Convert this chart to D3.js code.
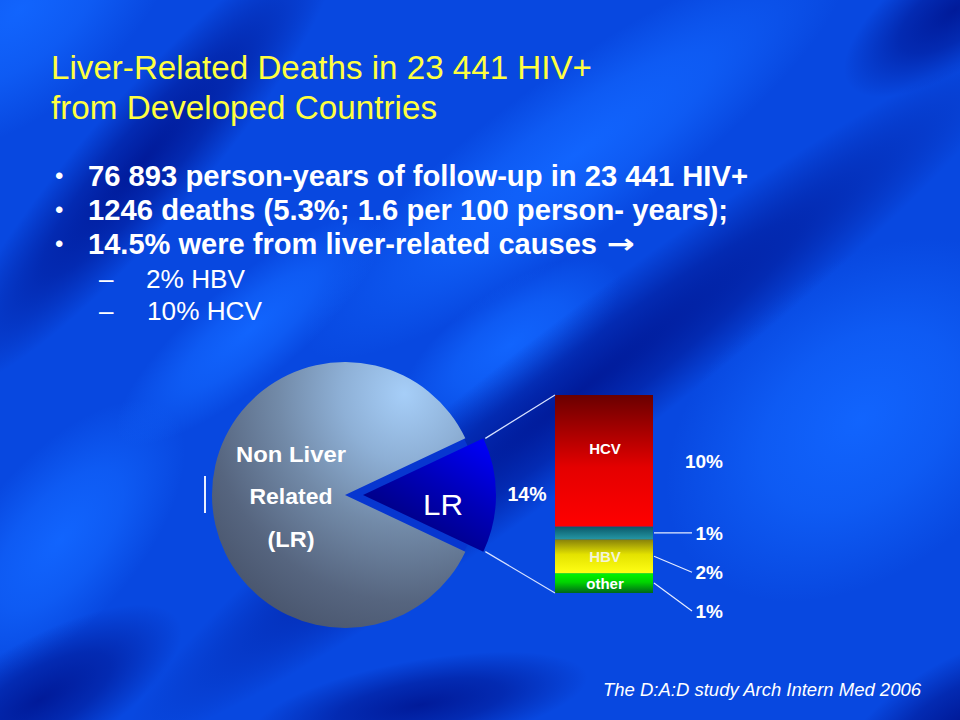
<!DOCTYPE html>
<html>
<head>
<meta charset="utf-8">
<script src="https://cdn.jsdelivr.net/npm/d3@7/dist/d3.min.js"></script>
<style>
  html, body { margin: 0; padding: 0; background: #0848e0; }
  svg { display: block; }
  text { font-family: "Liberation Sans", Arial, sans-serif; }
</style>
</head>
<body>
<svg id="chart" width="960" height="720"></svg>
<script>
// ---------------- DATA ----------------
const titleLines = ["Liver-Related Deaths in 23 441 HIV+", "from Developed Countries"];
const bullets = [
  "76 893 person-years of follow-up in 23 441 HIV+",
  "1246 deaths (5.3%; 1.6 per 100 person- years);",
  "14.5% were from liver-related causes"
];
const subBullets = ["2% HBV", "10% HCV"];
const footnote = "The D:A:D study Arch Intern Med 2006";

const pieCategories = ["Non Liver Related (LR)", "LR"];
const pieValues = [86, 14];
const pieCategoryLines = [["Non Liver", "Related", "(LR)"], ["LR"]];
const pieShareLabel = "14%";

// stacked bar, bottom to top
const barCategories = ["other", "HBV", "", "HCV"];
const barValues = [1.4, 2.4, 0.9, 9.3];
const barLabels = ["1%", "2%", "1%", "10%"];

// ---------------- LAYOUT ----------------
const svg = d3.select("#chart");
const W = 960, H = 720;
const defs = svg.append("defs");

// ---- background: base colour + soft elliptical streaks
svg.append("rect").attr("width", W).attr("height", H).attr("fill", "#0848e0");
function blobGrad(id, color, op) {
  const g = defs.append("radialGradient").attr("id", id);
  g.append("stop").attr("offset", 0).attr("stop-color", color).attr("stop-opacity", op);
  g.append("stop").attr("offset", 0.5).attr("stop-color", color).attr("stop-opacity", op * 0.65);
  g.append("stop").attr("offset", 1).attr("stop-color", color).attr("stop-opacity", 0);
}
blobGrad("bBright", "#1266ff", 0.95);
blobGrad("bDark", "#001896", 0.95);
const bgBlobs = [
  // bright
  { x: 20, y: 10, rx: 190, ry: 100, a: -40, t: "bBright" },
  { x: 575, y: 155, rx: 330, ry: 80, a: -36, t: "bBright" },
  { x: 860, y: 420, rx: 220, ry: 150, a: -40, t: "bBright" },
  { x: 60, y: 540, rx: 170, ry: 80, a: -50, t: "bBright" },
  { x: 510, y: 345, rx: 130, ry: 55, a: -35, t: "bBright" },
  { x: 250, y: 330, rx: 170, ry: 50, a: -40, t: "bBright" },
  // dark
  { x: 140, y: 165, rx: 290, ry: 60, a: -49, t: "bDark" },
  { x: 575, y: 395, rx: 560, ry: 70, a: -37.5, t: "bDark" },
  { x: 955, y: 10, rx: 130, ry: 55, a: -35, t: "bDark" },
  { x: 960, y: 720, rx: 140, ry: 60, a: -30, t: "bDark" },
  { x: 420, y: 705, rx: 170, ry: 45, a: -10, t: "bDark" },
  { x: 40, y: 700, rx: 160, ry: 60, a: -30, t: "bDark" }
];
svg.append("g").selectAll("ellipse").data(bgBlobs).join("ellipse")
  .attr("rx", d => d.rx).attr("ry", d => d.ry)
  .attr("transform", d => `translate(${d.x},${d.y}) rotate(${d.a})`)
  .attr("fill", d => `url(#${d.t})`);

// helper for fitted text
function fitText(g, str, x, y, size, width, opts = {}) {
  const t = g.append("text")
    .attr("x", x).attr("y", y)
    .attr("font-size", size)
    .attr("fill", opts.fill || "#fff")
    .attr("font-weight", opts.weight || "normal")
    .attr("font-style", opts.style || "normal")
    .text(str);
  if (opts.family) t.style("font-family", opts.family);
  if (opts.anchor) t.attr("text-anchor", opts.anchor);
  if (width) t.attr("textLength", width).attr("lengthAdjust", "spacingAndGlyphs");
  return t;
}

// title
const textG = svg.append("g");
const titleLayout = [{ y: 79, w: 541 }, { y: 118.5, w: 386 }];
titleLines.forEach((s, i) => fitText(textG, s, 51, titleLayout[i].y, 33, titleLayout[i].w, { fill: "#ffff40" }));

// bullets
const bulletLayout = [{ y: 186, w: 660 }, { y: 220, w: 640 }, { y: 254, w: 509 }];
bullets.forEach((s, i) => {
  textG.append("text").attr("x", 55).attr("y", bulletLayout[i].y - 2).attr("font-size", 24).attr("fill", "#fff").text("•");
  fitText(textG, s, 88, bulletLayout[i].y, 29, bulletLayout[i].w, { weight: "bold" });
});
fitText(textG, "→", 607, 253, 27, 28, { weight: "bold", family: "DejaVu Sans" });

const subLayout = [{ y: 288, w: 99 }, { y: 320, w: 115 }];
subBullets.forEach((s, i) => {
  textG.append("text").attr("x", 99).attr("y", subLayout[i].y).attr("font-size", 26).attr("fill", "#fff").text("–");
  fitText(textG, s, 146 + i, subLayout[i].y, 26.5, subLayout[i].w);
});

fitText(textG, footnote, 603, 696, 18.5, 318, { style: "italic" });

// ---------------- PIE ----------------
const cx = 345, cy = 495, R = 133, explode = 18;
const total = d3.sum(pieValues);
const lrIndex = 1;
const before = d3.sum(pieValues.slice(0, lrIndex));
const startA = Math.PI / 2 - ((before + pieValues[lrIndex] / 2) / total) * 2 * Math.PI;
const pie = d3.pie().sort(null).value(d => d).startAngle(startA).endAngle(startA + 2 * Math.PI);
const arcs = pie(pieValues);
const arc = d3.arc().innerRadius(0).outerRadius(R);

const gGrey = defs.append("radialGradient").attr("id", "gGrey")
  .attr("cx", 0.76).attr("cy", 0.12).attr("r", 1.0).attr("fx", 0.76).attr("fy", 0.12);
[[0, "#a6cef8"], [0.25, "#8eb0d6"], [0.5, "#728aa8"], [0.78, "#56657f"], [1, "#47536b"]]
  .forEach(([o, c]) => gGrey.append("stop").attr("offset", o).attr("stop-color", c));

const lrA = arcs[lrIndex];
const mid = (lrA.startAngle + lrA.endAngle) / 2;
const ex = explode * Math.sin(mid), ey = -explode * Math.cos(mid);

const gLR = defs.append("linearGradient").attr("id", "gLR")
  .attr("x1", 0.85).attr("y1", 0).attr("x2", 0.15).attr("y2", 1);
[[0, "#0000f6"], [0.4, "#0000b8"], [0.75, "#000088"], [1, "#000066"]]
  .forEach(([o, c]) => gLR.append("stop").attr("offset", o).attr("stop-color", c));

defs.append("clipPath").attr("id", "haloClip")
  .append("circle").attr("cx", cx).attr("cy", cy).attr("r", R - 1);

const pieG = svg.append("g").attr("transform", `translate(${cx},${cy})`);
const corner0 = a => [ex + R * Math.sin(a), ey - R * Math.cos(a)];
// lighter-blue band along the two straight edges of the exploded slice
svg.append("g").attr("clip-path", "url(#haloClip)")
  .append("path")
  .attr("transform", `translate(${cx},${cy})`)
  .attr("d", d3.line()([corner0(lrA.startAngle), [ex, ey], corner0(lrA.endAngle)]))
  .attr("fill", "none").attr("stroke", "#0736d0").attr("stroke-width", 18)
  .attr("stroke-linejoin", "miter").attr("stroke-miterlimit", 10);
pieG.raise();
pieG.selectAll("path.slice").data(arcs).join("path")
  .attr("class", "slice")
  .attr("d", arc)
  .attr("transform", (d, i) => i === lrIndex ? `translate(${ex},${ey})` : null)
  .attr("fill", (d, i) => i === lrIndex ? "url(#gLR)" : "url(#gGrey)");

// pie labels
const nonLines = pieCategoryLines[0];
const nonY = [462, 504, 547];
nonLines.forEach((s, i) => {
  svg.append("text").attr("x", 291).attr("y", nonY[i]).attr("text-anchor", "middle")
    .attr("font-size", 22.5).attr("font-weight", "bold").attr("fill", "#fff")
    .attr("textLength", [110, 83, 47][i]).attr("lengthAdjust", "spacingAndGlyphs").text(s);
});
svg.append("text").attr("x", 443).attr("y", 515).attr("text-anchor", "middle")
  .attr("font-size", 29).attr("fill", "#fff").attr("textLength", 40).attr("lengthAdjust", "spacingAndGlyphs")
  .text(pieCategoryLines[1][0]);
svg.append("text").attr("x", 527).attr("y", 501).attr("text-anchor", "middle")
  .attr("font-size", 19.5).attr("font-weight", "bold").attr("fill", "#fff").text(pieShareLabel);

// small vertical mark at the left of the pie
svg.append("line").attr("x1", 205).attr("x2", 205).attr("y1", 476).attr("y2", 513)
  .attr("stroke", "#e8eeff").attr("stroke-width", 2);

// ---------------- STACKED BAR ----------------
const barX0 = 555, barX1 = 653;
const y = d3.scaleLinear().domain([0, d3.sum(barValues)]).range([593, 395]);
let acc = 0;
const segs = barValues.map((v, i) => {
  const s = { cat: barCategories[i], v, lab: barLabels[i], y0: acc, y1: acc + v, i };
  acc += v;
  return s;
});

const segGrads = [
  [[0, "#00f400"], [0.45, "#00d400"], [1, "#00661a"]],
  [[0, "#86800a"], [0.45, "#e4e200"], [1, "#ffff14"]],
  [[0, "#0a5868"], [1, "#2596a4"]],
  [[0, "#6a0000"], [0.55, "#e40000"], [1, "#ff0000"]]
];
segGrads.forEach((stops, i) => {
  const g = defs.append("linearGradient").attr("id", "seg" + i)
    .attr("x1", 0).attr("y1", 0).attr("x2", 0).attr("y2", 1);
  stops.forEach(([o, c]) => g.append("stop").attr("offset", o).attr("stop-color", c));
});

const barG = svg.append("g");
barG.selectAll("rect").data(segs).join("rect")
  .attr("x", barX0).attr("width", barX1 - barX0)
  .attr("y", d => y(d.y1)).attr("height", d => y(d.y0) - y(d.y1))
  .attr("fill", d => `url(#seg${d.i})`);

// inside labels
barG.selectAll("text.in").data(segs.filter(d => d.cat)).join("text")
  .attr("class", "in")
  .attr("x", (barX0 + barX1) / 2 + 1)
  .attr("y", d => d.cat === "HCV" ? y(d.y1) + 0.45 * (y(d.y0) - y(d.y1)) : (y(d.y0) + y(d.y1)) / 2 + 6)
  .attr("text-anchor", "middle").attr("font-size", 15).attr("font-weight", "bold")
  .attr("fill", d => d.cat === "HBV" ? "#f4f4d8" : "#fff")
  .text(d => d.cat);

// right labels and leaders
const labelShift = [28, 16, 0, 0];
const labelX = 723;
segs.forEach(d => {
  const cyS = (y(d.y0) + y(d.y1)) / 2;
  const ly = cyS + labelShift[d.i];
  if (d.cat !== "HCV") {
    barG.append("line").attr("x1", barX1 + 1).attr("y1", cyS).attr("x2", 692).attr("y2", ly)
      .attr("stroke", "#e6ecff").attr("stroke-width", 1.2);
  }
  barG.append("text").attr("x", labelX).attr("y", ly + 7).attr("text-anchor", "end")
    .attr("font-size", 19).attr("font-weight", "bold").attr("fill", "#fff").text(d.lab);
});

// connectors from exploded slice to bar
const corner = a => [cx + ex + R * Math.sin(a), cy + ey - R * Math.cos(a)];
const c0 = corner(lrA.startAngle), c1 = corner(lrA.endAngle);
svg.append("line").attr("x1", c0[0] + 2).attr("y1", c0[1]).attr("x2", barX0).attr("y2", y(d3.sum(barValues)))
  .attr("stroke", "#d8e2ff").attr("stroke-width", 1.2);
svg.append("line").attr("x1", c1[0] + 2).attr("y1", c1[1]).attr("x2", barX0).attr("y2", y(0))
  .attr("stroke", "#d8e2ff").attr("stroke-width", 1.2);
</script>
</body>
</html>
